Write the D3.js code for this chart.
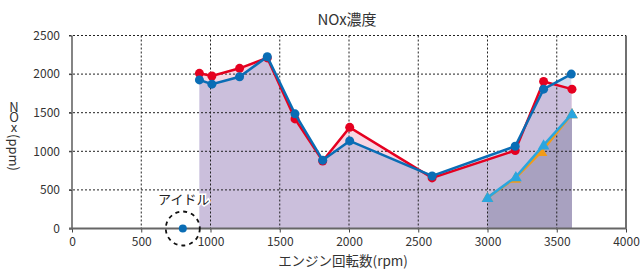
<!DOCTYPE html>
<html>
<head>
<meta charset="utf-8">
<script src="https://cdn.jsdelivr.net/npm/d3@7"></script>
<style>
body { margin: 0; background: #fff; }
svg { display: block; font-family: "Noto Sans CJK JP", "Noto Sans", sans-serif; }
</style>
</head>
<body>
<div id="chart"></div>
<script>
// series
var redRpm = [920, 1010, 1210, 1410, 1610, 1810, 2005, 2600, 3200, 3405, 3610],
	redNox = [2010, 1975, 2075, 2210, 1420, 875, 1310, 655, 1010, 1905, 1805];
var blueRpm = [920, 1010, 1210, 1410, 1610, 1810, 2005, 2600, 3200, 3405, 3605],
	blueNox = [1925, 1870, 1965, 2225, 1485, 885, 1135, 680, 1065, 1805, 2000];
var orangeRpm = [3000, 3200, 3390, 3610],
	orangeNox = [400, 650, 995, 1485];
var skyRpm = [3000, 3205, 3405, 3610],
	skyNox = [400, 670, 1080, 1485];
var idleRpm = [800],
	idleNox = [0];

var xTicks = [0, 500, 1000, 1500, 2000, 2500, 3000, 3500, 4000],
	yTicks = [0, 500, 1000, 1500, 2000, 2500];

var width = 642, height = 271;
var margin = {left: 72, right: 16, top: 35.5, bottom: 42.5};

function zip(xs, ys) {
	return xs.map(function(d, i) { return [d, ys[i]]; });
}

var red = zip(redRpm, redNox),
	blue = zip(blueRpm, blueNox),
	orange = zip(orangeRpm, orangeNox),
	sky = zip(skyRpm, skyNox),
	idle = zip(idleRpm, idleNox);

var svg = d3.select("#chart").append("svg")
	.attr("width", width)
	.attr("height", height);

var x = d3.scaleLinear().domain([0, 4000]).range([margin.left, width - margin.right]);
var y = d3.scaleLinear().domain([0, 2500]).range([height - margin.bottom, margin.top]);

var line = d3.line().x(function(d) { return x(d[0]); }).y(function(d) { return y(d[1]); });
var area = d3.area().x(function(d) { return x(d[0]); }).y0(y(0)).y1(function(d) { return y(d[1]); });

// fills: pink under red, light blue under blue, purple where both overlap
svg.append("clipPath").attr("id", "redClip")
	.append("path").attr("d", area(red));

svg.append("path").attr("d", area(red)).attr("fill", "#f6d6e4");
svg.append("path").attr("d", area(blue)).attr("fill", "#d3dbee");
svg.append("path").attr("d", area(blue)).attr("fill", "#cbbfdc").attr("clip-path", "url(#redClip)");
svg.append("path").attr("d", area(sky)).attr("fill", "#a8a1c0");

// grid
svg.append("g").selectAll("line").data(yTicks.filter(function(d) { return d > 0; }))
	.enter().append("line")
	.attr("x1", x(0) - 3).attr("x2", x(4000))
	.attr("y1", function(d) { return y(d); }).attr("y2", function(d) { return y(d); })
	.attr("stroke", "#222").attr("stroke-width", 1).attr("stroke-dasharray", "2,2");

svg.append("g").selectAll("line").data(xTicks.filter(function(d) { return d > 0 && d < 4000; }))
	.enter().append("line")
	.attr("x1", function(d) { return x(d); }).attr("x2", function(d) { return x(d); })
	.attr("y1", y(2500)).attr("y2", y(0) + 3)
	.attr("stroke", "#222").attr("stroke-width", 1).attr("stroke-dasharray", "2,2");

// axes
var yAxis = svg.append("g")
	.attr("transform", "translate(" + x(0) + ",0)")
	.call(d3.axisLeft(y).tickValues(yTicks).tickFormat(d3.format("d")).tickSize(3).tickPadding(9));
var xAxis = svg.append("g")
	.attr("transform", "translate(0," + y(0) + ")")
	.call(d3.axisBottom(x).tickValues(xTicks).tickFormat(d3.format("d")).tickSize(4).tickPadding(5));

[yAxis, xAxis].forEach(function(ax) {
	ax.select(".domain").remove();
	ax.selectAll("text").attr("fill", "#333").style("font-size", "12px")
		.style("font-family", "'Noto Sans CJK JP', sans-serif");
	ax.selectAll("line").attr("stroke", "#444");
});

svg.append("line")
	.attr("x1", x(0)).attr("x2", x(0)).attr("y1", y(2500)).attr("y2", y(0))
	.attr("stroke", "#333").attr("stroke-width", 1.2);
svg.append("line")
	.attr("x1", x(4000)).attr("x2", x(4000)).attr("y1", y(2500)).attr("y2", y(0))
	.attr("stroke", "#111").attr("stroke-width", 1.2);
svg.append("line")
	.attr("x1", x(0) - 3).attr("x2", x(4000)).attr("y1", y(0)).attr("y2", y(0))
	.attr("stroke", "#666").attr("stroke-width", 2);

// lines and markers
function drawCircles(data, color) {
	svg.append("path").attr("d", line(data))
		.attr("fill", "none").attr("stroke", color).attr("stroke-width", 2.5);
	svg.append("g").selectAll("circle").data(data)
		.enter().append("circle")
		.attr("cx", function(d) { return x(d[0]); })
		.attr("cy", function(d) { return y(d[1]); })
		.attr("r", 4.5)
		.attr("fill", color);
}

var triangle = d3.symbol().type(d3.symbolTriangle).size(60);

function drawTriangles(data, color) {
	svg.append("path").attr("d", line(data))
		.attr("fill", "none").attr("stroke", color).attr("stroke-width", 2.5);
	svg.append("g").selectAll("path").data(data)
		.enter().append("path")
		.attr("d", triangle)
		.attr("transform", function(d) { return "translate(" + x(d[0]) + "," + (y(d[1]) + 1) + ")"; })
		.attr("fill", color);
}

drawCircles(red, "#e50020");
drawCircles(blue, "#0a6db5");
drawTriangles(orange, "#f29b16");
drawTriangles(sky, "#2aa6df");

// idle point
svg.append("circle")
	.attr("cx", x(idle[0][0])).attr("cy", y(idle[0][1])).attr("r", 17)
	.attr("fill", "none").attr("stroke", "#111").attr("stroke-width", 1.8)
	.attr("stroke-dasharray", "4,4");
svg.append("circle")
	.attr("cx", x(idle[0][0])).attr("cy", y(idle[0][1])).attr("r", 4)
	.attr("fill", "#0a6db5");
svg.append("text")
	.attr("x", x(idle[0][0]) + 1).attr("y", y(idle[0][1]) - 28)
	.attr("text-anchor", "middle").attr("dominant-baseline", "middle")
	.style("font-size", "13px").attr("fill", "#222")
	.attr("stroke", "#fff").attr("stroke-width", 3).attr("paint-order", "stroke")
	.text("アイドル");

// title and axis labels
svg.append("text")
	.attr("x", 347).attr("y", 21)
	.attr("text-anchor", "middle").attr("dominant-baseline", "middle")
	.style("font-size", "15px").attr("fill", "#333")
	.text("NOx濃度");

svg.append("text")
	.attr("x", 343).attr("y", 262)
	.attr("text-anchor", "middle").attr("dominant-baseline", "middle")
	.style("font-size", "13.5px").attr("fill", "#333")
	.text("エンジン回転数(rpm)");

// y label in vertical writing: "NOx" upright, "(ppm)" turned
var yLabel = svg.append("text")
	.attr("x", 14).attr("y", 101)
	.style("writing-mode", "vertical-rl")
	.style("font-size", "13px").attr("fill", "#333");
yLabel.append("tspan")
	.style("text-orientation", "upright")
	.style("letter-spacing", "-3px")
	.text("NOx");
yLabel.append("tspan")
	.style("text-orientation", "mixed")
	.attr("dy", 3)
	.text("(ppm)");
</script>
</body>
</html>
